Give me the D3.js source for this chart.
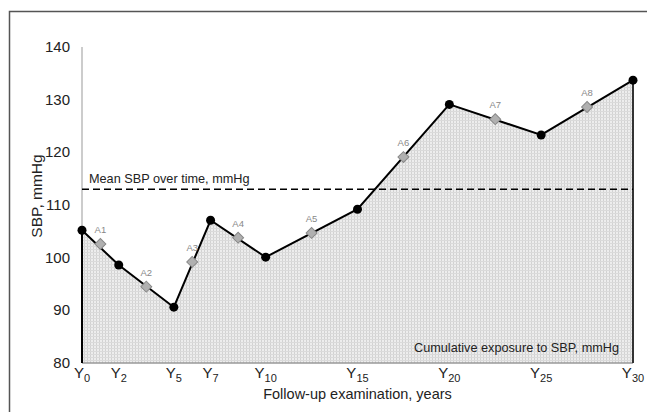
<!DOCTYPE html>
<html>
<head>
<meta charset="utf-8">
<script src="https://cdn.jsdelivr.net/npm/d3@7"></script>
<style>
  body { margin: 0; background: #fff; }
  text { font-family: "Liberation Sans", Arial, sans-serif; }
</style>
</head>
<body>
<div id="chart"></div>
<script>
// Exam years and mean SBP at each exam
const years = [0, 2, 5, 7, 10, 15, 20, 25, 30];
const sbp = [105.2, 98.6, 90.6, 107.1, 100.1, 109.2, 129.1, 123.3, 133.7];

// Area markers between exams
const areaLabels = ["A1", "A2", "A3", "A4", "A5", "A6", "A7", "A8"];
const areaYears = [1, 3.5, 6, 8.5, 12.5, 17.5, 22.5, 27.5];
const areaValues = [102.6, 94.5, 99.2, 103.8, 104.7, 119.1, 126.3, 128.6];

const meanSbp = 113;
const yTicks = [80, 90, 100, 110, 120, 130, 140];

const width = 647, height = 412;

const svg = d3.select("#chart").append("svg")
  .attr("width", width)
  .attr("height", height);

// dotted fill
const pat = svg.append("defs").append("pattern")
  .attr("id", "dots")
  .attr("width", 3).attr("height", 3)
  .attr("patternUnits", "userSpaceOnUse");
pat.append("rect").attr("width", 3).attr("height", 3).attr("fill", "#ededed");
pat.append("rect").attr("width", 1).attr("height", 3).attr("fill", "#d2d2d2");
pat.append("rect").attr("width", 3).attr("height", 1).attr("fill", "#dadada");

// outer frame (only top/left visible)
svg.append("path")
  .attr("d", "M9.5,420 V11.5 H660")
  .attr("fill", "none")
  .attr("stroke", "#555")
  .attr("stroke-width", 1.5);

const x = d3.scaleLinear().domain([0, 30]).range([82, 633]);
const y = d3.scaleLinear().domain([80, 140]).range([363, 47]);

const pts = years.map((yr, i) => [yr, sbp[i]]);

// cumulative exposure area
const area = d3.area()
  .x(d => x(d[0]))
  .y0(y(80))
  .y1(d => y(d[1]));

svg.append("path")
  .datum(pts)
  .attr("d", area)
  .attr("fill", "url(#dots)");

// axes lines
svg.append("line")
  .attr("x1", x(0)).attr("x2", x(0))
  .attr("y1", y(140)).attr("y2", y(80))
  .attr("stroke", "#999").attr("stroke-width", 1);
svg.append("line")
  .attr("x1", x(0)).attr("x2", x(30))
  .attr("y1", y(80)).attr("y2", y(80))
  .attr("stroke", "#999").attr("stroke-width", 1.5);

// area side edges
svg.append("line")
  .attr("x1", x(0)).attr("x2", x(0))
  .attr("y1", y(sbp[0])).attr("y2", y(80))
  .attr("stroke", "#000").attr("stroke-width", 2);
svg.append("line")
  .attr("x1", x(30)).attr("x2", x(30))
  .attr("y1", y(sbp[sbp.length - 1])).attr("y2", y(80))
  .attr("stroke", "#333").attr("stroke-width", 2);

// y tick labels
svg.selectAll(".ytick")
  .data(yTicks)
  .enter().append("text")
  .attr("class", "ytick")
  .attr("x", 70)
  .attr("y", d => y(d) + 5)
  .attr("text-anchor", "end")
  .attr("font-size", 15)
  .attr("fill", "#222")
  .text(d => d);

// x tick labels with subscripts
const xt = svg.selectAll(".xtick")
  .data(years)
  .enter().append("text")
  .attr("class", "xtick")
  .attr("x", d => x(d))
  .attr("y", 378)
  .attr("text-anchor", "middle")
  .attr("font-size", 15)
  .attr("fill", "#222");
xt.append("tspan").text("Y");
xt.append("tspan")
  .attr("font-size", 11)
  .attr("dy", 4)
  .text(d => d);

// axis titles
svg.append("text")
  .attr("x", x(15))
  .attr("y", 399)
  .attr("text-anchor", "middle")
  .attr("font-size", 14.5)
  .attr("fill", "#222")
  .text("Follow-up examination, years");

svg.append("text")
  .attr("transform", "translate(42,196) rotate(-90)")
  .attr("text-anchor", "middle")
  .attr("font-size", 15.5)
  .attr("fill", "#222")
  .text("SBP, mmHg");

// mean line
svg.append("line")
  .attr("x1", x(0)).attr("x2", x(30))
  .attr("y1", y(meanSbp)).attr("y2", y(meanSbp))
  .attr("stroke", "#000")
  .attr("stroke-width", 1.6)
  .attr("stroke-dasharray", "7,4");

svg.append("text")
  .attr("x", 89)
  .attr("y", y(meanSbp) - 6)
  .attr("font-size", 12.7)
  .attr("fill", "#222")
  .text("Mean SBP over time, mmHg");

svg.append("text")
  .attr("x", 619)
  .attr("y", 352)
  .attr("text-anchor", "end")
  .attr("font-size", 12.7)
  .attr("fill", "#222")
  .text("Cumulative exposure to SBP, mmHg");

// SBP line
const line = d3.line()
  .x(d => x(d[0]))
  .y(d => y(d[1]));

svg.append("path")
  .datum(pts)
  .attr("d", line)
  .attr("fill", "none")
  .attr("stroke", "#000")
  .attr("stroke-width", 2);

// diamonds
const diamonds = areaYears.map((yr, i) => ({ yr: yr, v: areaValues[i], lab: areaLabels[i] }));

svg.selectAll(".diamond")
  .data(diamonds)
  .enter().append("path")
  .attr("class", "diamond")
  .attr("d", d3.symbol().type(d3.symbolSquare).size(60))
  .attr("transform", d => `translate(${x(d.yr)},${y(d.v)}) rotate(45)`)
  .attr("fill", "#b0b0b0")
  .attr("stroke", "#888")
  .attr("stroke-width", 1);

svg.selectAll(".alabel")
  .data(diamonds)
  .enter().append("text")
  .attr("class", "alabel")
  .attr("x", d => x(d.yr))
  .attr("y", d => y(d.v) - 11)
  .attr("text-anchor", "middle")
  .attr("font-size", 9.5)
  .attr("fill", "#888")
  .text(d => d.lab);

// exam points
svg.selectAll(".pt")
  .data(pts)
  .enter().append("circle")
  .attr("class", "pt")
  .attr("cx", d => x(d[0]))
  .attr("cy", d => y(d[1]))
  .attr("r", 4.5)
  .attr("fill", "#000");
</script>
</body>
</html>
